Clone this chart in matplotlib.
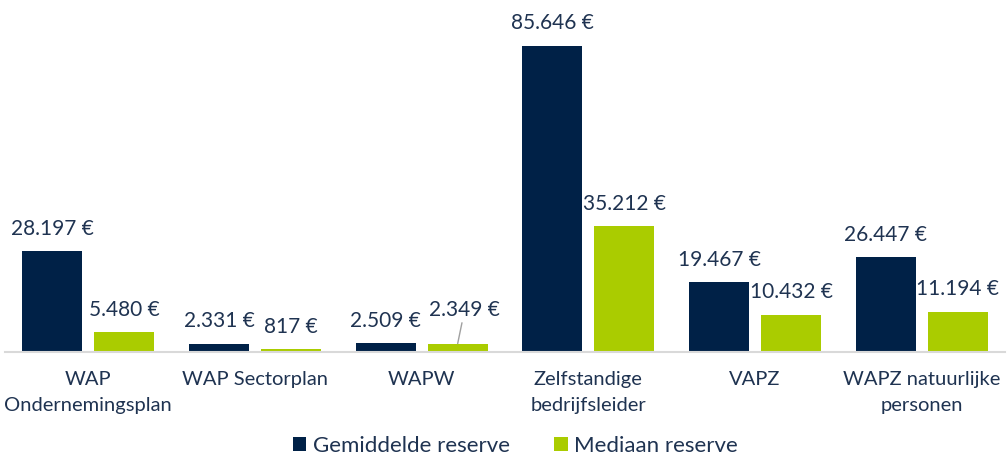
import matplotlib.pyplot as plt
import numpy as np

categories = ["WAP\nOndernemingsplan", "WAP Sectorplan", "WAPW",
              "Zelfstandige\nbedrijfsleider", "VAPZ", "WAPZ natuurlijke\npersonen"]
gemiddelde = [28197, 2331, 2509, 85646, 19467, 26447]
mediaan = [5480, 817, 2349, 35212, 10432, 11194]

navy = "#002147"
lime = "#AACC00"
txt = "#1F3351"

plt.rcParams['font.family'] = ['Lato', 'DejaVu Sans']

fig = plt.figure(figsize=(10.07, 4.69), dpi=100)
ax = fig.add_axes([5 / 1007, (469 - 352) / 469, 1000 / 1007, 352 / 469])

x = np.arange(len(categories))
w = 0.36
off = 0.216
ax.bar(x - off, gemiddelde, w, color=navy, label="Gemiddelde reserve")
ax.bar(x + off, mediaan, w, color=lime, label="Mediaan reserve")

def fmt(v):
    return "{:,}".format(v).replace(",", ".") + " €"

for xi, v in zip(x - off, gemiddelde):
    ax.annotate(fmt(v), (xi, v), xytext=(0, 9), textcoords="offset points",
                ha="center", va="bottom", fontsize=15, color=txt)
for i, (xi, v) in enumerate(zip(x + off, mediaan)):
    if categories[i] == "WAPW":
        # label lifted above the bar with a small leader line
        ax.annotate(fmt(v), (xi, v), xytext=(5, 17), textcoords="offset points",
                    ha="center", va="bottom", fontsize=15, color=txt,
                    arrowprops=dict(arrowstyle="-", color="#A0A0A0", lw=1,
                                    shrinkA=0, shrinkB=0))
    else:
        ax.annotate(fmt(v), (xi, v), xytext=(0, 9), textcoords="offset points",
                    ha="center", va="bottom", fontsize=15, color=txt)

ax.set_xlim(-0.5, len(categories) - 0.5)
ax.set_ylim(0, 98500)
for s in ["top", "right", "left"]:
    ax.spines[s].set_visible(False)
ax.spines["bottom"].set_color("#D9D9D9")
ax.spines["bottom"].set_linewidth(1.5)
ax.set_yticks([])
ax.set_xticks(x)
ax.set_xticklabels(categories, fontsize=14.5, color=txt, linespacing=1.6)
ax.tick_params(axis="x", length=0, pad=14)

fig.legend(loc="lower center", bbox_to_anchor=(0.512, -0.015), ncol=2, frameon=False,
           fontsize=16, labelcolor=txt, handlelength=0.6, handleheight=0.6,
           handletextpad=0.3, columnspacing=2.0)

fig.savefig("out.png", dpi=100)
